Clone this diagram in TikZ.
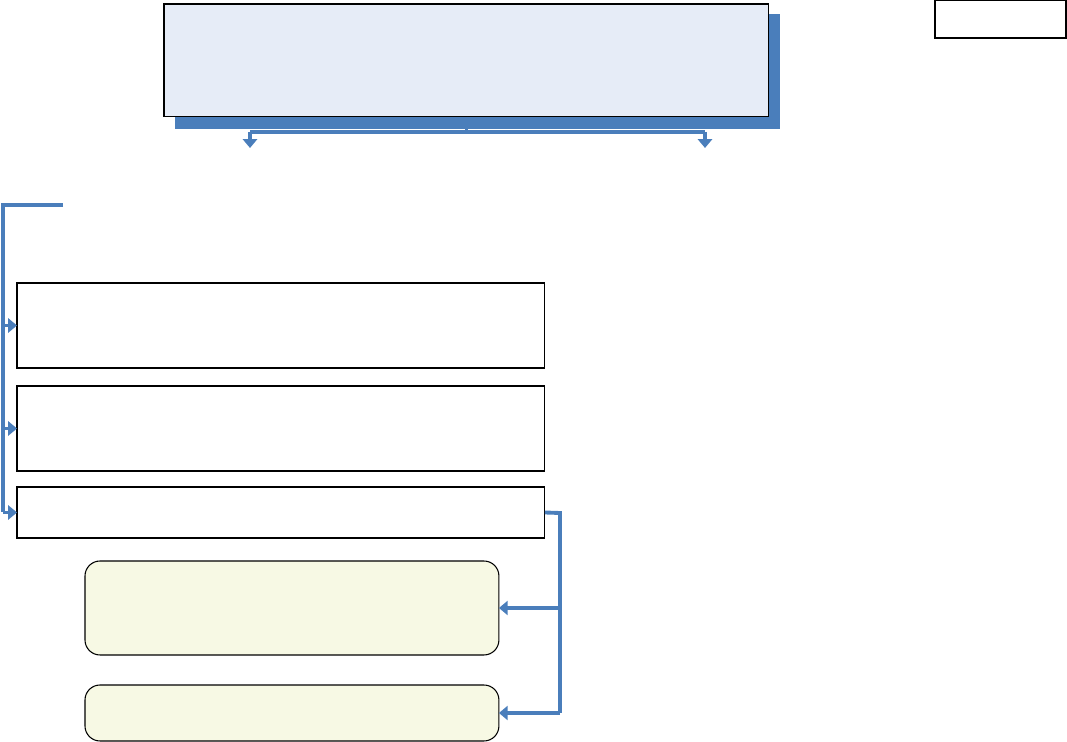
\documentclass[tikz,border=0pt]{standalone}
\usetikzlibrary{arrows.meta,positioning}
\definecolor{linkblue}{HTML}{4A7EBB}
\definecolor{titlefill}{HTML}{E6ECF7}
\definecolor{notefill}{HTML}{F7F9E4}
\tikzset{
  plainbox/.style={draw=black,line width=0.6pt,rectangle,anchor=north west,inner sep=0pt,outer sep=0pt},
  notebox/.style={plainbox,fill=notefill,rounded corners=0.3cm},
  link/.style={draw=linkblue,line width=2.2pt},
  linkarrow/.style={link,-{Triangle[length=5pt,width=8pt]}}
}
\begin{document}
\begin{tikzpicture}[x=0.02cm,y=-0.02cm]
\useasboundingbox (0,0) rectangle (1067,742);
% Title block with its shadow
\node[plainbox,draw=none,fill=linkblue,minimum width=12.1cm,minimum height=2.3cm] (titleshadow) at (175,14) {};
\node[plainbox,fill=titlefill,minimum width=12.1cm,minimum height=2.26cm] (title) at (164,4) {};
\node[plainbox,minimum width=2.62cm,minimum height=0.76cm] (tag) at (935,0) {};

% Split below the title
\coordinate (splitL) at (250,132);
\coordinate (splitR) at (705,132);
\draw[link] (title.south) -- (title.south |- splitL);
\draw[link] (splitL) -- (splitR);
\draw[linkarrow] (splitL) -- +(0,16);
\draw[linkarrow] (splitR) -- +(0,16);

% Left column of boxes
\node[plainbox,minimum width=10.56cm,minimum height=1.7cm] (boxA) at (17,283) {};
\node[plainbox,minimum width=10.56cm,minimum height=1.7cm] (boxB) at (17,386) {};
\node[plainbox,minimum width=10.56cm,minimum height=1.02cm] (boxC) at (17,487) {};

% Spine feeding the left column
\coordinate (spine) at (3,205);
\draw[link] (63,205) -- (spine) -- (spine |- boxC.west);
\draw[linkarrow] (spine |- boxA.west) -- (boxA.west);
\draw[linkarrow] (spine |- boxB.west) -- (boxB.west);
\draw[linkarrow] (spine |- boxC.west) -- (boxC.west);

% Notes fed from the last box
\node[notebox,minimum width=8.28cm,minimum height=1.88cm] (noteA) at (85,561) {};
\node[notebox,minimum width=8.28cm,minimum height=1.12cm] (noteB) at (85,685) {};
\coordinate (rail) at (560,513);
\draw[link] (boxC.east) -- (rail) -- (rail |- noteB.east);
\draw[linkarrow] (rail |- noteA.east) -- (noteA.east);
\draw[linkarrow] (rail |- noteB.east) -- (noteB.east);
\end{tikzpicture}
\end{document}
